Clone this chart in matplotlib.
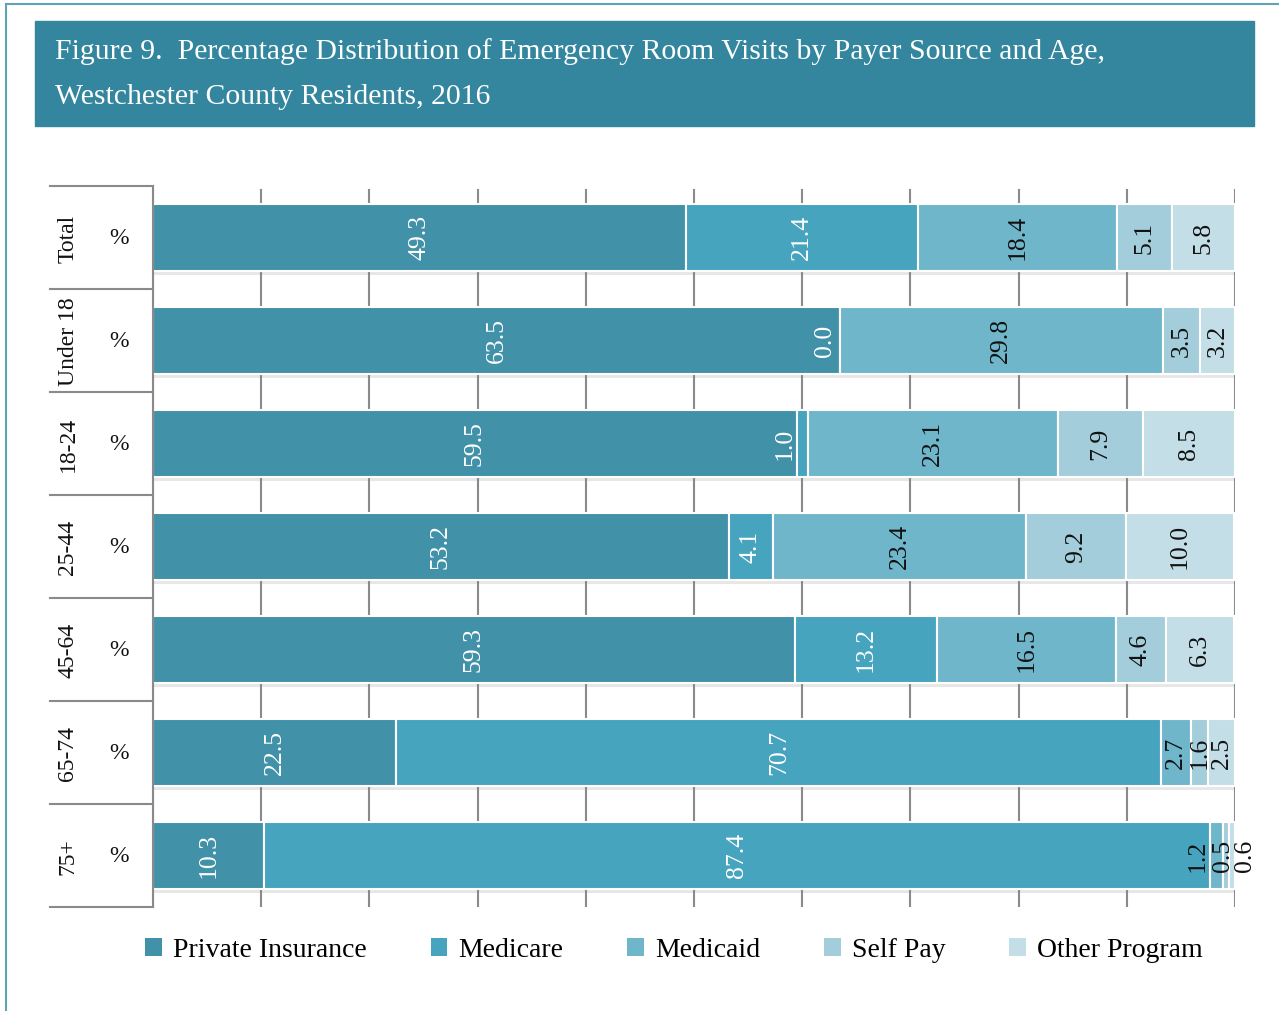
import matplotlib.pyplot as plt
import matplotlib.patheffects as pe
from matplotlib.patches import Patch, Rectangle
from matplotlib.lines import Line2D

plt.rcParams['font.family'] = ['Liberation Serif', 'DejaVu Serif']

groups = ["Total", "Under 18", "18-24", "25-44", "45-64", "65-74", "75+"]
series = ["Private Insurance", "Medicare", "Medicaid", "Self Pay", "Other Program"]
private = [49.3, 63.5, 59.5, 53.2, 59.3, 22.5, 10.3]
medicare = [21.4, 0.0, 1.0, 4.1, 13.2, 70.7, 87.4]
medicaid = [18.4, 29.8, 23.1, 23.4, 16.5, 2.7, 1.2]
self_pay = [5.1, 3.5, 7.9, 9.2, 4.6, 1.6, 0.5]
other = [5.8, 3.2, 8.5, 10.0, 6.3, 2.5, 0.6]
values = [private, medicare, medicaid, self_pay, other]

colors = ["#4191A8", "#47A4BE", "#70B6CB", "#A3CDDB", "#C3DEE6"]
text_colors = ["white", "white", "#111111", "#111111", "#111111"]
# nudges (pixels) for labels that do not fit inside their segment
nudge = {(1, 1): -15, (2, 1): -18, (6, 2): -19, (6, 3): -3, (6, 4): 13}

W, H = 1279, 1012
fig = plt.figure(figsize=(W / 100, H / 100), dpi=100)

# outer frame and title band
fig.add_artist(Line2D([6 / W, 6 / W], [0, 1 - 5 / H], color="#5FA3B7", lw=1.5))
fig.add_artist(Line2D([6 / W, 1], [1 - 5 / H, 1 - 5 / H], color="#5FA3B7", lw=1.5))
fig.add_artist(Rectangle((35 / W, 1 - 127 / H), (1254 - 35) / W, 105 / H,
                         color="#33869E", transform=fig.transFigure))
fig.text(55 / W, 1 - 52 / H,
         "Figure 9.  Percentage Distribution of Emergency Room Visits by Payer Source and Age,",
         color="white", fontsize=21.4, va="center", ha="left")
fig.text(55 / W, 1 - 97 / H, "Westchester County Residents, 2016",
         color="white", fontsize=21.4, va="center", ha="left")

x0, x1 = 153, 1235
y_top, y_bot = 187, 908
ax = fig.add_axes([x0 / W, 1 - y_bot / H, (x1 - x0) / W, (y_bot - y_top) / H])
ax.set_xlim(0, 100)
ax.set_ylim(len(groups) - 0.5, -0.5)
for s in ["top", "right", "bottom"]:
    ax.spines[s].set_visible(False)
ax.spines["left"].set_color("#8a8a8a")
ax.spines["left"].set_linewidth(1.5)
ax.set_xticks([])
ax.set_yticks([])

for g in range(0, 101, 10):
    ax.axvline(g, color="#8a8a8a", lw=1.5, zorder=0, ymax=0.995)

shadow = [pe.SimplePatchShadow(offset=(1, -3), shadow_rgbFace="#888888", alpha=0.2), pe.Normal()]
left = [0.0] * len(groups)
for k, vals in enumerate(values):
    bars = ax.barh(range(len(groups)), vals, left=left, height=0.65, color=colors[k],
                   edgecolor="white", linewidth=1.5, label=series[k], zorder=2)
    for b in bars:
        b.set_path_effects(shadow)
    for i, v in enumerate(vals):
        xc = left[i] + v / 2
        ax.annotate(f"{v:.1f}", (xc, i), xytext=(nudge.get((i, k), 0), 1),
                    textcoords="offset pixels", rotation=90, ha="center", va="center",
                    color=text_colors[k], fontsize=18.5, zorder=3)
    left = [a + b for a, b in zip(left, vals)]

# left label table
for r in range(len(groups) + 1):
    yy = 1 - (y_top + r * (y_bot - y_top) / len(groups)) / H
    fig.add_artist(Line2D([50 / W, x0 / W], [yy, yy], color="#8a8a8a", lw=1.5))
for i, g in enumerate(groups):
    yc = 1 - (y_top + (i + 0.5) * (y_bot - y_top) / len(groups)) / H
    fig.text(68 / W, yc, g, rotation=90, ha="center", va="center", fontsize=17, color="#111111")
    fig.text(119 / W, yc, "%", ha="center", va="center", fontsize=17, color="#111111")

handles = [Patch(facecolor=c, edgecolor="none") for c in colors]
fig.legend(handles, series, loc="center", bbox_to_anchor=(0.527, 1 - 951 / H), ncol=5,
           frameon=False, fontsize=20, handlelength=0.6, handleheight=0.6,
           handletextpad=0.4, columnspacing=2.3)

fig.savefig("out.png", dpi=100)
